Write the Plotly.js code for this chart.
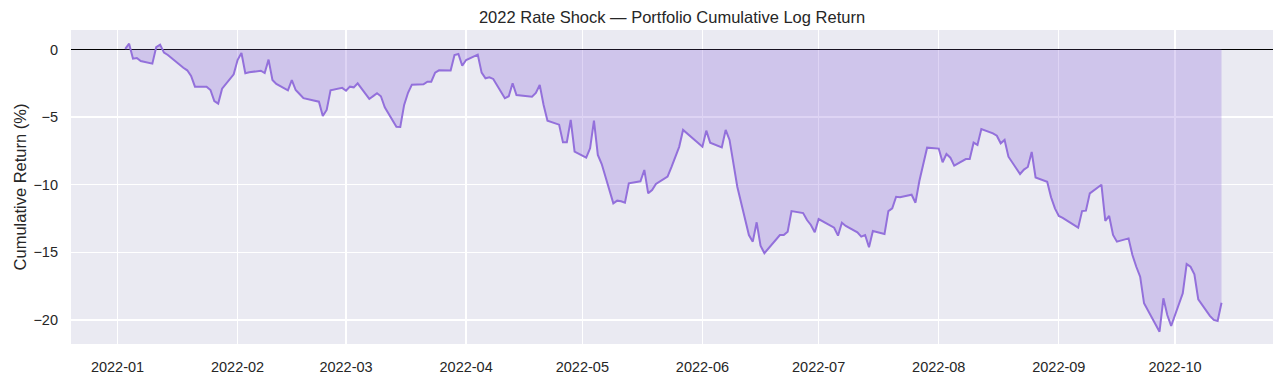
<!DOCTYPE html>
<html>
<head>
<meta charset="utf-8">
<script src="https://cdn.plot.ly/plotly-3.0.1.min.js"></script>
<style>html,body{margin:0;padding:0;background:#fff;}#chart{width:1284px;height:383px;}</style>
</head>
<body>
<div id="chart"></div>
<script>
const dates = [
"2022-01-03","2022-01-04","2022-01-05","2022-01-06","2022-01-07",
"2022-01-10","2022-01-11","2022-01-12","2022-01-13","2022-01-14",
"2022-01-18","2022-01-19","2022-01-20","2022-01-21",
"2022-01-24","2022-01-25","2022-01-26","2022-01-27","2022-01-28",
"2022-01-31","2022-02-01","2022-02-02","2022-02-03","2022-02-04",
"2022-02-07","2022-02-08","2022-02-09","2022-02-10","2022-02-11",
"2022-02-14","2022-02-15","2022-02-16","2022-02-17","2022-02-18",
"2022-02-22","2022-02-23","2022-02-24","2022-02-25",
"2022-02-28","2022-03-01","2022-03-02","2022-03-03","2022-03-04",
"2022-03-07","2022-03-08","2022-03-09","2022-03-10","2022-03-11",
"2022-03-14","2022-03-15","2022-03-16","2022-03-17","2022-03-18",
"2022-03-21","2022-03-22","2022-03-23","2022-03-24","2022-03-25",
"2022-03-28","2022-03-29","2022-03-30","2022-03-31","2022-04-01",
"2022-04-04","2022-04-05","2022-04-06","2022-04-07","2022-04-08",
"2022-04-11","2022-04-12","2022-04-13","2022-04-14",
"2022-04-18","2022-04-19","2022-04-20","2022-04-21","2022-04-22",
"2022-04-25","2022-04-26","2022-04-27","2022-04-28","2022-04-29",
"2022-05-02","2022-05-03","2022-05-04","2022-05-05","2022-05-06",
"2022-05-09","2022-05-10","2022-05-11","2022-05-12","2022-05-13",
"2022-05-16","2022-05-17","2022-05-18","2022-05-19","2022-05-20",
"2022-05-23","2022-05-24","2022-05-25","2022-05-26","2022-05-27",
"2022-05-31","2022-06-01","2022-06-02","2022-06-03",
"2022-06-06","2022-06-07","2022-06-08","2022-06-09","2022-06-10",
"2022-06-13","2022-06-14","2022-06-15","2022-06-16","2022-06-17",
"2022-06-21","2022-06-22","2022-06-23","2022-06-24",
"2022-06-27","2022-06-28","2022-06-29","2022-06-30","2022-07-01",
"2022-07-05","2022-07-06","2022-07-07","2022-07-08",
"2022-07-11","2022-07-12","2022-07-13","2022-07-14","2022-07-15",
"2022-07-18","2022-07-19","2022-07-20","2022-07-21","2022-07-22",
"2022-07-25","2022-07-26","2022-07-27","2022-07-28","2022-07-29",
"2022-08-01","2022-08-02","2022-08-03","2022-08-04","2022-08-05",
"2022-08-08","2022-08-09","2022-08-10","2022-08-11","2022-08-12",
"2022-08-15","2022-08-16","2022-08-17","2022-08-18","2022-08-19",
"2022-08-22","2022-08-23","2022-08-24","2022-08-25","2022-08-26",
"2022-08-29","2022-08-30","2022-08-31","2022-09-01","2022-09-02",
"2022-09-06","2022-09-07","2022-09-08","2022-09-09",
"2022-09-12","2022-09-13","2022-09-14","2022-09-15","2022-09-16",
"2022-09-19","2022-09-20","2022-09-21","2022-09-22","2022-09-23",
"2022-09-26","2022-09-27","2022-09-28","2022-09-29","2022-09-30",
"2022-10-03","2022-10-04","2022-10-05","2022-10-06","2022-10-07",
"2022-10-10","2022-10-11","2022-10-12","2022-10-13"
];
const cumReturnPct = [
0.05,0.43,-0.68,-0.63,-0.85,
-1.05,0.18,0.36,-0.23,-0.41,
-1.35,-1.54,-1.96,-2.75,
-2.75,-3.0,-3.81,-4.0,-2.9,
-1.84,-0.78,-0.26,-1.76,-1.69,
-1.57,-1.74,-0.75,-2.26,-2.55,
-3.02,-2.26,-3.0,-3.29,-3.6,
-3.86,-4.92,-4.47,-3.02,
-2.84,-3.05,-2.75,-2.8,-2.5,
-3.66,-3.45,-3.24,-3.46,-4.28,
-5.71,-5.73,-4.1,-3.2,-2.6,
-2.58,-2.38,-2.38,-1.71,-1.54,
-1.56,-0.41,-0.33,-1.2,-0.78,
-0.38,-1.71,-2.13,-2.06,-2.18,
-3.61,-3.46,-2.5,-3.37,
-3.49,-3.22,-2.63,-4.1,-5.27,
-5.56,-6.86,-6.86,-5.21,-7.56,
-8.0,-7.31,-5.26,-7.8,-8.47,
-11.38,-11.18,-11.22,-11.33,-9.9,
-9.75,-8.91,-10.64,-10.39,-9.95,
-9.4,-8.7,-7.9,-7.2,-5.95,
-7.0,-7.19,-6.0,-6.89,
-7.24,-5.95,-6.69,-8.4,-10.15,
-13.72,-14.21,-12.78,-14.51,-15.07,
-13.72,-13.72,-13.47,-11.95,
-12.1,-12.61,-12.98,-13.52,-12.54,
-13.18,-13.77,-12.81,-13.05,
-13.52,-13.84,-13.72,-14.63,-13.42,
-13.65,-11.95,-11.75,-10.89,-10.93,
-10.74,-11.33,-9.73,-8.4,-7.26,
-7.33,-8.34,-7.73,-8.0,-8.59,
-8.1,-8.1,-6.89,-7.06,-5.88,
-6.2,-6.38,-6.94,-6.69,-7.93,
-9.21,-8.88,-8.69,-7.58,-9.46,
-9.78,-10.93,-11.75,-12.31,-12.45,
-13.18,-11.95,-11.92,-10.64,
-10.0,-12.68,-12.31,-13.72,-14.21,
-13.97,-15.2,-16.07,-16.8,-18.77,
-20.3,-20.87,-18.4,-19.64,-20.45,
-18.03,-15.87,-16.07,-16.63,-18.48,
-19.7,-20.0,-20.08,-18.73
];
const yTicks = [0, -5, -10, -15, -20];

const txt = '#262626';
const font = 'Liberation Sans, Arial, Helvetica, sans-serif';

const trace = {
  x: dates, y: cumReturnPct, type: 'scatter', mode: 'lines',
  line: {color: '#9370DB', width: 2},
  fill: 'tozeroy', fillcolor: 'rgba(147,112,219,0.3)',
  hoverinfo: 'x+y'
};

const layout = {
  width: 1284, height: 383,
  margin: {l: 71, r: 11, t: 30, b: 39},
  paper_bgcolor: '#ffffff', plot_bgcolor: '#EAEAF2',
  font: {family: font, color: txt, size: 14.5},
  showlegend: false,
  title: {text: '2022 Rate Shock — Portfolio Cumulative Log Return',
          font: {size: 16.5, color: txt, family: font},
          x: 0.5, xref: 'paper', xanchor: 'center', y: 1 - 17/383, yref: 'container', yanchor: 'middle'},
  xaxis: {
    type: 'date', range: ['2021-12-20', '2022-10-26 07:00'],
    tick0: '2022-01-01', dtick: 'M1', tickformat: '%Y-%m',
    showgrid: true, gridcolor: '#ffffff', gridwidth: 1.3,
    zeroline: false, showline: false, ticks: '',
    ticklabelstandoff: 12,
    tickfont: {size: 14.5, color: txt}
  },
  yaxis: {
    range: [-21.78, 1.44], tickvals: yTicks,
    showgrid: true, gridcolor: '#ffffff', gridwidth: 1.3,
    zeroline: true, zerolinecolor: '#000000', zerolinewidth: 1.1,
    showline: false, ticks: '',
    ticklabelstandoff: 12,
    tickfont: {size: 14.5, color: txt},
    title: {text: 'Cumulative Return (%)', font: {size: 16.5, color: txt}, standoff: 2}
  }
};

Plotly.newPlot('chart', [trace], layout, {displayModeBar: false, staticPlot: true});
</script>
</body>
</html>
